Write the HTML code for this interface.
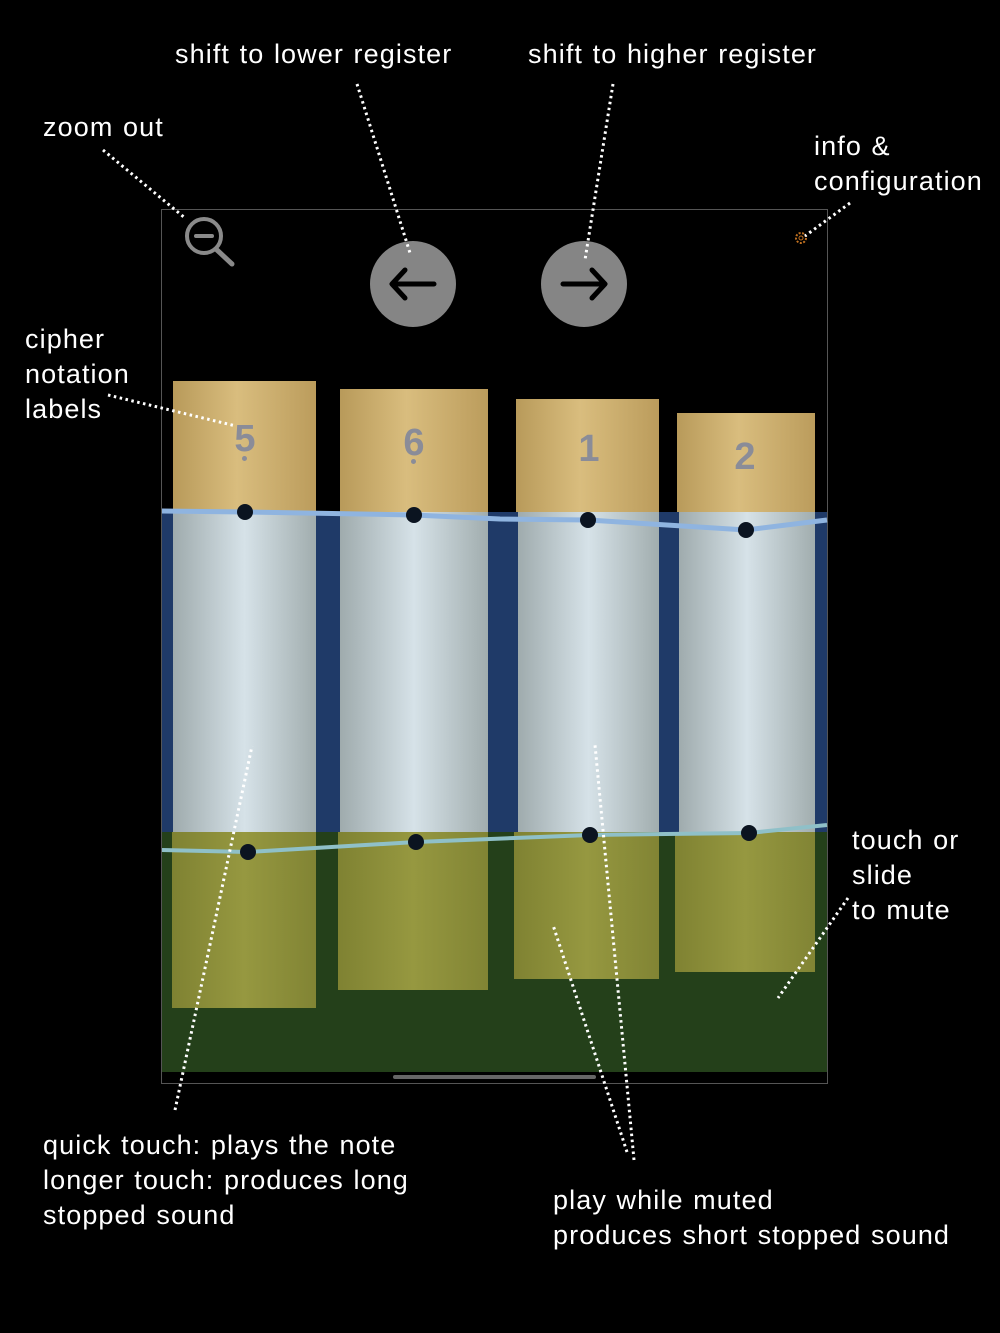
<!DOCTYPE html>
<html><head><meta charset="utf-8"><style>
html,body{margin:0;padding:0;background:#000;}
body{width:1000px;height:1333px;position:relative;overflow:hidden;font-family:"Liberation Sans",sans-serif;}
.a{position:absolute;}
.t{position:absolute;color:#fff;font-size:27px;line-height:35px;letter-spacing:1.1px;word-spacing:1px;white-space:nowrap;}
.num{position:absolute;color:#8a8c98;font-weight:bold;font-size:38px;width:60px;text-align:center;}
</style></head><body>
<div class="a" style="left:161px;top:209px;width:665px;height:873px;border:1px solid #555;background:#000;"></div>
<div class="a" style="left:162px;top:512px;width:665px;height:320px;background:#1f3a68;"></div>
<div class="a" style="left:162px;top:832px;width:665px;height:240px;background:#24401a;"></div>
<svg class="a" style="left:0;top:0" width="1000" height="1333">
<defs>
<linearGradient id="g1" x1="0" x2="1" y1="0" y2="0">
<stop offset="0" stop-color="#b89a5a"/><stop offset="0.45" stop-color="#d9bd7e"/><stop offset="1" stop-color="#bb9c5c"/></linearGradient>
<linearGradient id="g2" x1="0" x2="1" y1="0" y2="0">
<stop offset="0" stop-color="#9fabad"/><stop offset="0.5" stop-color="#d6e2e8"/><stop offset="1" stop-color="#a1adae"/></linearGradient>
<linearGradient id="g3" x1="0" x2="1" y1="0" y2="0">
<stop offset="0" stop-color="#7f8232"/><stop offset="0.5" stop-color="#969840"/><stop offset="1" stop-color="#818434"/></linearGradient>
</defs>
<g>
<rect x="173" y="381" width="143" height="131" fill="url(#g1)"/>
<rect x="173" y="512" width="143" height="320" fill="url(#g2)"/>
<rect x="172" y="832" width="144" height="176" fill="url(#g3)"/>
<rect x="340" y="389" width="148" height="123" fill="url(#g1)"/>
<rect x="340" y="512" width="148" height="320" fill="url(#g2)"/>
<rect x="338" y="832" width="150" height="158" fill="url(#g3)"/>
<rect x="516" y="399" width="143" height="113" fill="url(#g1)"/>
<rect x="518" y="512" width="141" height="320" fill="url(#g2)"/>
<rect x="514" y="832" width="145" height="147" fill="url(#g3)"/>
<rect x="677" y="413" width="138" height="99" fill="url(#g1)"/>
<rect x="679" y="512" width="136" height="320" fill="url(#g2)"/>
<rect x="675" y="832" width="140" height="140" fill="url(#g3)"/>
</g>
<path d="M162 511 L245 512 L414 515 L500 519 L588 520 L746 530 L827 520" stroke="#8fb4e0" stroke-width="5" fill="none"/>
<path d="M162 850 L248 852 L416 842 L590 835 L749 833 L827 825" stroke="#8fc0c8" stroke-width="4" fill="none"/>
<g fill="#0b1420">
<circle cx="245" cy="512" r="8"/><circle cx="414" cy="515" r="8"/><circle cx="588" cy="520" r="8"/><circle cx="746" cy="530" r="8"/>
<circle cx="248" cy="852" r="8"/><circle cx="416" cy="842" r="8"/><circle cx="590" cy="835" r="8"/><circle cx="749" cy="833" r="8"/>
</g>
<rect x="393" y="1075" width="203" height="4" rx="2" fill="#666"/>
<circle cx="204" cy="236" r="17" stroke="#8a8a8a" stroke-width="4" fill="none"/>
<line x1="196" y1="236" x2="212" y2="236" stroke="#8a8a8a" stroke-width="4" stroke-linecap="round"/>
<line x1="217" y1="250" x2="232" y2="264" stroke="#8a8a8a" stroke-width="5" stroke-linecap="round"/>
<circle cx="413" cy="284" r="43" fill="#858585"/>
<path d="M434 284 H393 M405 270 L392 284 L405 298" stroke="#000" stroke-width="5" fill="none" stroke-linecap="round" stroke-linejoin="round"/>
<circle cx="584" cy="284" r="43" fill="#858585"/>
<path d="M563 284 H604 M592 270 L605 284 L592 298" stroke="#000" stroke-width="5" fill="none" stroke-linecap="round" stroke-linejoin="round"/>
<circle cx="801" cy="238" r="5" stroke="#c07020" stroke-width="2" fill="none" stroke-dasharray="2 1.5"/>
<circle cx="801" cy="238" r="2" stroke="#c07020" stroke-width="1" fill="none"/>
<g stroke="#fff" stroke-width="3" stroke-dasharray="2.5 3.5" fill="none">
<line x1="103" y1="150" x2="185" y2="218"/>
<line x1="357" y1="84" x2="410" y2="253"/>
<line x1="613" y1="84" x2="585" y2="260"/>
<line x1="850" y1="203" x2="805" y2="236"/>
<line x1="108" y1="395" x2="236" y2="426"/>
<line x1="175" y1="1110" x2="252" y2="746"/>
<line x1="634" y1="1160" x2="595" y2="745"/>
<line x1="627" y1="1152" x2="553" y2="925"/>
<line x1="848" y1="898" x2="778" y2="998"/>
</g>
</svg>
<div class="num" style="left:215px;top:418px;">5</div>
<div class="num" style="left:384px;top:422px;">6</div>
<div class="num" style="left:559px;top:428px;">1</div>
<div class="num" style="left:715px;top:436px;">2</div>
<div class="a" style="left:242px;top:456px;width:5px;height:5px;border-radius:50%;background:#8a8c98;"></div>
<div class="a" style="left:411px;top:459px;width:5px;height:5px;border-radius:50%;background:#8a8c98;"></div>

<div class="t" style="left:175px;top:37px;">shift to lower register</div>
<div class="t" style="left:528px;top:37px;">shift to higher register</div>
<div class="t" style="left:43px;top:110px;">zoom out</div>
<div class="t" style="left:814px;top:129px;">info &amp;<br>configuration</div>
<div class="t" style="left:25px;top:322px;">cipher<br>notation<br>labels</div>
<div class="t" style="left:852px;top:823px;">touch or<br>slide<br>to mute</div>
<div class="t" style="left:43px;top:1128px;">quick touch: plays the note<br>longer touch: produces long<br>stopped sound</div>
<div class="t" style="left:553px;top:1183px;">play while muted<br>produces short stopped sound</div>
</body></html>
